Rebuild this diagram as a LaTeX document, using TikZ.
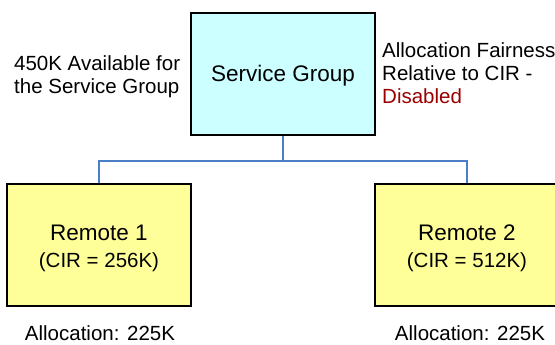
\documentclass[tikz,border=0pt]{standalone}
\usepackage{fontspec}
\setmainfont{Liberation Sans}
\usetikzlibrary{shadows}
\definecolor{sgfill}{HTML}{CCFFFF}
\definecolor{rfill}{HTML}{FFFF99}
\definecolor{linkblue}{HTML}{4A7EC6}
\definecolor{disred}{HTML}{990000}
\begin{document}
\begin{tikzpicture}[x=1pt,y=1pt,
  boxstyle/.style={draw=black, line width=1.2pt, minimum width=184pt, minimum height=122pt,
    inner sep=0pt, drop shadow={shadow xshift=1.2pt, shadow yshift=-1.2pt, fill=black!35, opacity=1}},
  bigtext/.style={anchor=base, inner sep=0pt, font=\fontsize{22.5}{27}\selectfont},
  midtext/.style={anchor=base, inner sep=0pt, font=\fontsize{20.5}{24}\selectfont},
  link/.style={draw=linkblue, line width=2pt}]
\useasboundingbox (0,0) rectangle (555,-345);
% boxes
\node[boxstyle, fill=sgfill] (sg) at (283,-74) {};
\node[boxstyle, fill=rfill] (r1) at (99,-245) {};
\node[boxstyle, fill=rfill] (r2) at (467,-245) {};
% box texts
\node[bigtext] (sgt) at (283,-82) {Service Group};
\node[bigtext] (r1t) at (99,-240) {Remote 1};
\node[midtext] (r1c) at (99,-267) {(CIR = 256K)};
\node[bigtext] (r2t) at (467,-240) {Remote 2};
\node[midtext] (r2c) at (467,-267) {(CIR = 512K)};
% side texts
\node[midtext, anchor=base west] (avail1) at (14,-71) {450K Available for};
\node[midtext, anchor=base west] (avail2) at (14,-93.5) {the Service Group};
\node[midtext, anchor=base west] (fair1) at (382,-58) {Allocation Fairness};
\node[midtext, anchor=base west] (fair2) at (382,-81) {Relative to CIR -};
\node[midtext, anchor=base west, text=disred] (fair3) at (382,-104) {Disabled};
% allocations
\node[midtext] (a1) at (100,-340) {Allocation: 225K};
\node[midtext] (a2) at (470,-340) {Allocation: 225K};
% connectors
\draw[link] (sg.south) -- ++(0,-25) coordinate (j) -| (r1.north);
\draw[link] (j) -| (r2.north);
\end{tikzpicture}
\end{document}
